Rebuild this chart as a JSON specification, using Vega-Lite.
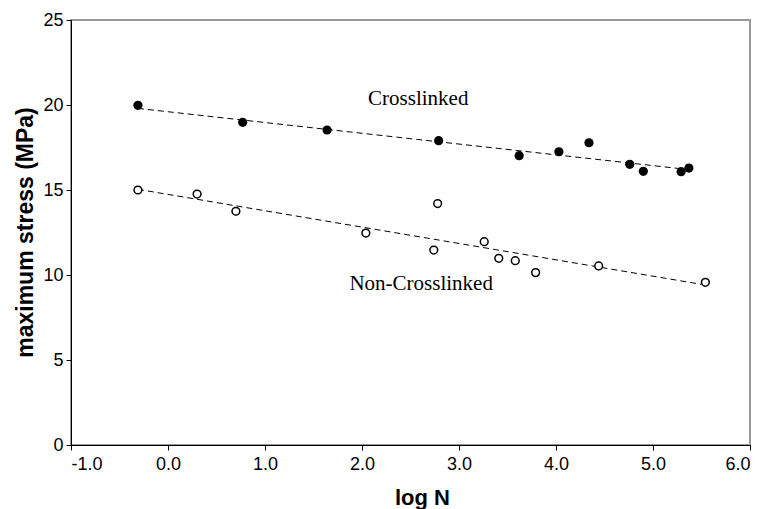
{
  "$schema": "https://vega.github.io/schema/vega-lite/v6.json",
  "width": 679,
  "height": 425,
  "autosize": "none",
  "padding": {"left": 71, "top": 20, "right": 13, "bottom": 64},
  "background": "white",
  "config": {
    "view": {"stroke": "#999999", "strokeWidth": 2},
    "axis": {
      "domainColor": "black",
      "tickColor": "black",
      "grid": false,
      "labelFont": "Liberation Sans",
      "labelFontSize": 18,
      "labelColor": "black",
      "titleFont": "Liberation Sans",
      "titleFontWeight": "bold",
      "titleColor": "black",
      "tickSize": 5
    }
  },
  "datasets": {
    "cross": [
      {"logN": -0.31, "stress": 19.98},
      {"logN": 0.77, "stress": 18.98},
      {"logN": 1.64, "stress": 18.53},
      {"logN": 2.79, "stress": 17.9},
      {"logN": 3.62, "stress": 17.02},
      {"logN": 4.03, "stress": 17.25},
      {"logN": 4.34, "stress": 17.78},
      {"logN": 4.76, "stress": 16.51},
      {"logN": 4.9, "stress": 16.1},
      {"logN": 5.29, "stress": 16.08},
      {"logN": 5.37, "stress": 16.29}
    ],
    "noncross": [
      {"logN": -0.31, "stress": 15.0},
      {"logN": 0.3, "stress": 14.76},
      {"logN": 0.7, "stress": 13.75},
      {"logN": 2.04, "stress": 12.47},
      {"logN": 2.74, "stress": 11.47},
      {"logN": 2.78, "stress": 14.2},
      {"logN": 3.26, "stress": 11.96},
      {"logN": 3.41, "stress": 10.98},
      {"logN": 3.58, "stress": 10.84},
      {"logN": 3.79, "stress": 10.14},
      {"logN": 4.44, "stress": 10.53},
      {"logN": 5.54, "stress": 9.57}
    ],
    "fitCross": [
      {"logN": -0.31, "stress": 19.8},
      {"logN": 5.37, "stress": 16.2}
    ],
    "fitNon": [
      {"logN": -0.31, "stress": 15.04},
      {"logN": 5.5, "stress": 9.45}
    ],
    "labels": [
      {"logN": 2.58, "stress": 20.0, "text": "Crosslinked"},
      {"logN": 2.61, "stress": 9.12, "text": "Non-Crosslinked"}
    ]
  },
  "layer": [
    {
      "data": {"name": "fitCross"},
      "mark": {"type": "line", "color": "black", "strokeWidth": 1, "strokeDash": [6, 4]},
      "encoding": {
        "x": {"field": "logN", "type": "quantitative", "scale": {"domain": [-1, 6], "nice": false, "zero": false},
              "axis": {"title": "log N", "values": [-1, 0, 1, 2, 3, 4, 5, 6],
                       "labelExpr": "datum.value < 0 ? '-' + format(-datum.value, '.1f') : format(datum.value, '.1f')",
                       "labelPadding": 5, "titleFontSize": 22, "titleX": 351, "titleY": 59, "titleBaseline": "alphabetic"}},
        "y": {"field": "stress", "type": "quantitative", "scale": {"domain": [0, 25], "nice": false},
              "axis": {"title": "maximum stress (MPa)", "values": [0, 5, 10, 15, 20, 25], "labelPadding": 3,
                       "titleFontSize": 23, "titleX": -46, "titleY": 212, "titleBaseline": "middle"}}
      }
    },
    {
      "data": {"name": "fitNon"},
      "mark": {"type": "line", "color": "black", "strokeWidth": 1, "strokeDash": [6, 4]},
      "encoding": {
        "x": {"field": "logN", "type": "quantitative"},
        "y": {"field": "stress", "type": "quantitative"}
      }
    },
    {
      "data": {"name": "cross"},
      "mark": {"type": "circle", "color": "black", "opacity": 1, "size": 85},
      "encoding": {
        "x": {"field": "logN", "type": "quantitative"},
        "y": {"field": "stress", "type": "quantitative"}
      }
    },
    {
      "data": {"name": "noncross"},
      "mark": {"type": "point", "shape": "circle", "filled": false, "fill": "white", "fillOpacity": 1, "stroke": "black", "strokeWidth": 1.5, "opacity": 1, "size": 60},
      "encoding": {
        "x": {"field": "logN", "type": "quantitative"},
        "y": {"field": "stress", "type": "quantitative"}
      }
    },
    {
      "data": {"name": "labels"},
      "mark": {"type": "text", "font": "Liberation Serif", "fontSize": 21, "color": "black", "align": "center", "baseline": "alphabetic"},
      "encoding": {
        "x": {"field": "logN", "type": "quantitative"},
        "y": {"field": "stress", "type": "quantitative"},
        "text": {"field": "text"}
      }
    }
  ]
}
